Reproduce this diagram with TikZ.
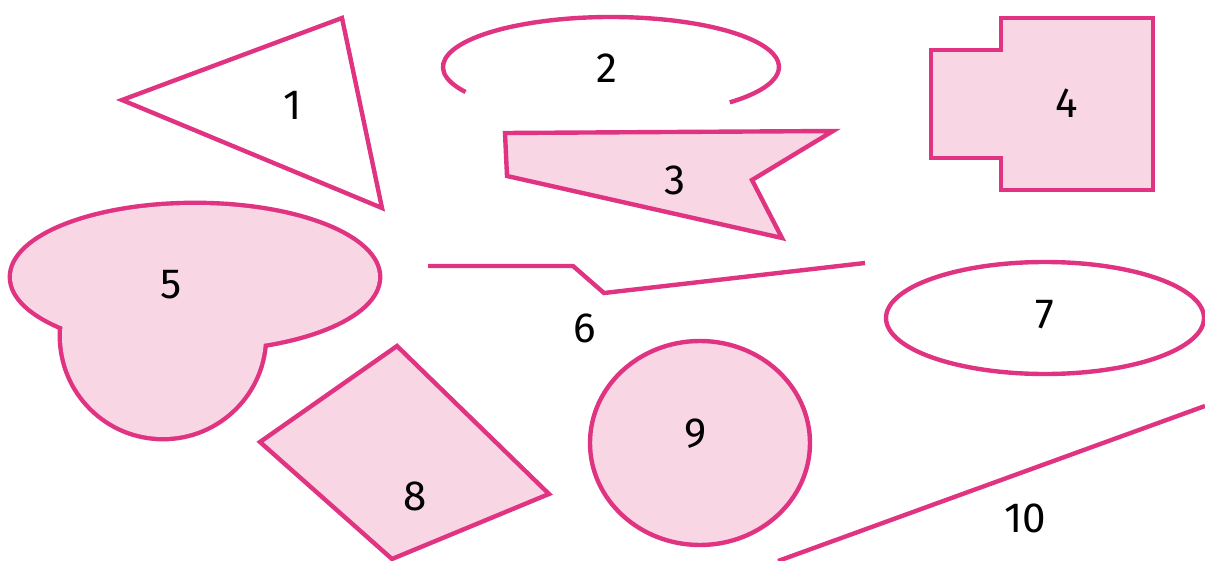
\documentclass[tikz,border=0pt]{standalone}
\usepackage{fontspec}
\setmainfont{Fira Sans}
\definecolor{figpink}{RGB}{224,52,130}
\definecolor{figrose}{RGB}{248,214,228}

\begin{document}
\begin{tikzpicture}[x=0.02cm,y=-0.02cm,
  figline/.style={draw=figpink,line width=2.5pt,line join=miter},
  figfill/.style={figline,fill=figrose},
  num/.style={font=\fontsize{24}{28}\selectfont}]
\useasboundingbox (0,0) rectangle (1205,561);

% 1 triangle
\draw[figline] (122,100) -- (342,18) -- (382,208) -- cycle;
\node[num] (n1) at (293,105) {1};

% 2 open ellipse
\draw[figline] (611,67) ++(150:168 and 50) arc[start angle=150,end angle=405,x radius=168,y radius=50];
\node[num] (n2) at (607,68) {2};

% 3 flag
\draw[figfill] (505,133) -- (833,131) -- (752,180) -- (782,238) -- (507,176) -- cycle;
\node[num] (n3) at (675,180) {3};

% 4 stepped box
\draw[figfill] (1001,18) -- (1153,18) -- (1153,190) -- (1001,190) -- (1001,158)
  -- (931,158) -- (931,50) -- (1001,50) -- cycle;
\node[num] (n4) at (1067,103) {4};

% 5 ellipse and circle joined
\draw[draw=figpink,line width=5pt] (195,277) ellipse[x radius=183,y radius=72];
\draw[draw=figpink,line width=5pt] (163,336) circle[radius=101];
\fill[figrose] (195,277) ellipse[x radius=183,y radius=72];
\fill[figrose] (163,336) circle[radius=101];
\node[num] (n5) at (171,285) {5};

% 6 broken line
\draw[figline] (428,266) -- (573,266) -- (604,293) -- (865,263);
\node[num] (n6) at (585,328) {6};

% 7 ellipse
\draw[figline] (1045,318) ellipse[x radius=159,y radius=56];
\node[num] (n7) at (1045,315) {7};

% 8 quadrilateral
\draw[figfill] (397,346) -- (549,494) -- (392,559) -- (260,442) -- cycle;
\node[num] (n8) at (415,496) {8};

% 9 round shape
\draw[figfill] (700,443) ellipse[x radius=110,y radius=102];
\node[num] (n9) at (696,434) {9};

% 10 straight line
\draw[figline] (778,561) -- (1205,406);
\node[num] (n10) at (1025,518) {10};
\end{tikzpicture}
\end{document}
